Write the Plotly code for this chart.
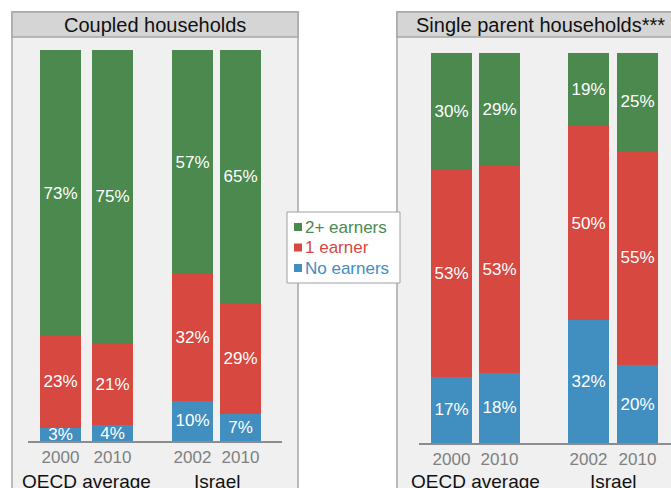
import plotly.graph_objects as go

# ---------------- data ----------------
years = ["2000", "2010", "2002", "2010"]
groups = ["OECD average", "Israel"]
series_names = ["No earners", "1 earner", "2+ earners"]
panel_titles = ["Coupled households", "Single parent households***"]

coupled_no = [3.4, 4.0, 10.3, 6.8]
coupled_one = [23.4, 21.0, 32.4, 28.6]
coupled_two = [73.2, 75.0, 57.3, 64.6]

single_no = [17.0, 18.0, 31.6, 20.0]
single_one = [53.0, 53.0, 49.6, 55.0]
single_two = [30.0, 29.0, 18.8, 25.0]

# ---------------- layout / style ----------------
W, H = 671, 488
colors = ["#418EC1", "#D64840", "#4B894E"]
FONT = "Arial, Liberation Sans, sans-serif"

panels = [
    dict(vals=[coupled_no, coupled_one, coupled_two], slots=[60.5, 112.5, 192.5, 240.5],
         axis=(28, 282), base=441, top=50, box=(12, 298), xa="x", ya="y"),
    dict(vals=[single_no, single_one, single_two], slots=[451.5, 499.5, 588.5, 637.5],
         axis=(419, 671), base=443, top=53, box=(397, 683), xa="x2", ya="y2"),
]

fig = go.Figure()
shapes = []
annotations = []

for pi, p in enumerate(panels):
    for name, v, c in zip(series_names, p["vals"], colors):
        fig.add_trace(go.Bar(
            x=p["slots"], y=v, width=41, name=name, showlegend=False,
            marker=dict(color=c, line=dict(width=0)),
            text=[f"{a:.0f}%" for a in v],
            textposition="inside", insidetextanchor="middle",
            textangle=0, constraintext="none",
            textfont=dict(color="white", size=17, family=FONT),
            xaxis=p["xa"], yaxis=p["ya"], hoverinfo="skip",
        ))
    x0, x1 = p["box"]
    shapes.append(dict(type="rect", xref="paper", yref="paper", layer="below",
                       x0=x0 / W, x1=x1 / W, y0=1 - 12 / H, y1=-0.1,
                       fillcolor="#EFF0EF", line=dict(color="#A6A6A6", width=1.5)))
    shapes.append(dict(type="rect", xref="paper", yref="paper", layer="below",
                       x0=x0 / W, x1=x1 / W, y0=1 - 12 / H, y1=1 - 37 / H,
                       fillcolor="#D5D5D5", line=dict(color="#A6A6A6", width=1.5)))
    annotations.append(dict(xref="paper", yref="paper", x=(x0 + x1) / 2 / W, y=1 - 24.5 / H,
                            text=panel_titles[pi], showarrow=False, xanchor="center",
                            yanchor="middle", font=dict(size=20, color="#111111", family=FONT)))
    for gi, g in enumerate(groups):
        gx = (p["slots"][2 * gi] + p["slots"][2 * gi + 1]) / 2
        annotations.append(dict(xref=p["xa"], yref="paper", x=gx, y=1 - 481 / H,
                                text=g, showarrow=False, xanchor="center", yanchor="middle",
                                font=dict(size=19, color="#111111", family=FONT)))

# legend box (drawn as a bordered box with coloured entries, top item = top series)
shapes.append(dict(type="rect", xref="paper", yref="paper", layer="above",
                   x0=287 / W, x1=400 / W, y0=1 - 212 / H, y1=1 - 283 / H,
                   fillcolor="white", line=dict(color="#A0A0A0", width=1)))
for row, (name, c) in enumerate(zip(series_names[::-1], colors[::-1])):
    yc = 227 + row * 20.5
    shapes.append(dict(type="rect", xref="paper", yref="paper", layer="above",
                       x0=294 / W, x1=302 / W, y0=1 - (yc - 4) / H, y1=1 - (yc + 4) / H,
                       fillcolor=c, line=dict(width=0)))
    annotations.append(dict(xref="paper", yref="paper", x=303 / W, y=1 - yc / H,
                            text=name, showarrow=False, xanchor="left", yanchor="middle",
                            font=dict(size=17, color=c, family=FONT)))

axis_common = dict(showgrid=False, zeroline=False, showline=True, linecolor="#8C8C8C",
                   linewidth=1.5, ticks="", tickfont=dict(size=17, color="#808080", family=FONT),
                   fixedrange=True)
yaxis_common = dict(visible=False, range=[0, 100], fixedrange=True)

fig.update_layout(
    width=W, height=H,
    margin=dict(l=0, r=0, t=0, b=0),
    paper_bgcolor="white", plot_bgcolor="rgba(0,0,0,0)",
    barmode="stack",
    font=dict(family=FONT),
    xaxis=dict(domain=[panels[0]["axis"][0] / W, panels[0]["axis"][1] / W],
               range=list(panels[0]["axis"]), tickvals=panels[0]["slots"], ticktext=years,
               anchor="y", **axis_common),
    yaxis=dict(domain=[(H - panels[0]["base"]) / H, (H - panels[0]["top"]) / H],
               anchor="x", **yaxis_common),
    xaxis2=dict(domain=[panels[1]["axis"][0] / W, 1.0],
                range=list(panels[1]["axis"]), tickvals=panels[1]["slots"], ticktext=years,
                anchor="y2", **axis_common),
    yaxis2=dict(domain=[(H - panels[1]["base"]) / H, (H - panels[1]["top"]) / H],
                anchor="x2", **yaxis_common),
    shapes=shapes,
    annotations=annotations,
    showlegend=False,
)

fig.write_html("out.html", config={"displayModeBar": False},
               post_script="document.body.style.margin='0';document.body.style.overflow='hidden';")
